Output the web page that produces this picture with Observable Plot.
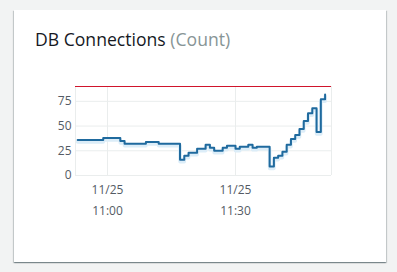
<!DOCTYPE html>
<html><head><meta charset="utf-8">
<script src="https://cdn.jsdelivr.net/npm/d3@7"></script>
<script src="https://cdn.jsdelivr.net/npm/@observablehq/plot@0.6"></script>
<style>
body{margin:0;background:#f2f3f3;width:397px;height:272px;overflow:hidden;font-family:"Open Sans",sans-serif;position:relative;}
#card{position:absolute;left:14px;top:10px;width:372px;height:252px;background:#fff;box-shadow:0 1px 1px 0 rgba(0,28,36,.3),1px 1px 1px 0 rgba(0,28,36,.15),-1px 1px 1px 0 rgba(0,28,36,.15);}
#title{position:absolute;left:35px;top:27px;font-size:17.6px;line-height:24px;color:#16191f;white-space:nowrap;}
#title span{color:#879596;}
#chart{position:absolute;left:0;top:70px;}
</style></head>
<body>
<div id="card"></div>
<div id="title">DB Connections <span>(Count)</span></div>
<div id="chart"></div>
<script>
const times = ["10:53","10:54","10:55","10:56","10:57","10:58","10:59","11:00","11:01","11:02",
"11:03","11:04","11:05","11:06","11:07","11:08","11:09","11:10","11:11","11:12",
"11:13","11:14","11:15","11:16","11:17","11:18","11:19","11:20","11:21","11:22",
"11:23","11:24","11:25","11:26","11:27","11:28","11:29","11:30","11:31","11:32",
"11:33","11:34","11:35","11:36","11:37","11:38","11:39","11:40","11:41","11:42",
"11:43","11:44","11:45","11:46","11:47","11:48","11:49","11:50","11:51"];
const connections = [36,36,36,36,36,36,38,38,38,38,
35,32,32,32,32,32,34,34,34,32,
32,32,32,32,16,20,23,23,27,27,
31,28,25,25,28,30,30,27,29,29,
31,28,29,29,29,9,18,20,24,31,
37,41,47,55,63,68,44,77,82];
const threshold = [90];
const yTicks = [0,25,50,75];
const xTickTimes = ["11:00","11:30"];
const xTickDates = ["11/25","11/25"];
const xDomain = ["10:52:30","11:52:30"];

const toDate = s => { const p = s.split(":").map(Number); return new Date(2023,10,25,p[0],p[1],p[2]||0); };
const data = times.map((t,i) => ({time: toDate(t), value: connections[i]}));
const tickDates = xTickTimes.map(toDate);
const domain = xDomain.map(toDate);

const chart = Plot.plot({
  width: 397, height: 150,
  marginLeft: 75, marginRight: 66, marginTop: 16, marginBottom: 45,
  style: {fontFamily: "'Open Sans', sans-serif", fontSize: "12px", color: "#545b64", background: "transparent"},
  x: {type: "time", domain},
  y: {domain: [0, 90]},
  marks: [
    Plot.gridY(yTicks, {stroke: "#eaeded", strokeOpacity: 1}),
    Plot.gridX([...tickDates, ...domain], {stroke: "#eaeded", strokeOpacity: 1}),
    Plot.ruleY(threshold, {stroke: "#d0142c", strokeWidth: 1}),
    Plot.line(data, {x: "time", y: "value", curve: "step-after", stroke: "#dcedf8", strokeWidth: 3.5, dy: 2}),
    Plot.line(data, {x: "time", y: "value", curve: "step-after", stroke: "#1f6a9e", strokeWidth: 2}),
    Plot.axisY(yTicks, {tickSize: 0, tickPadding: 4, label: null}),
    Plot.axisX(tickDates, {tickSize: 0, tickPadding: 10, tickFormat: (d, i) => xTickDates[i], label: null}),
    Plot.axisX(tickDates, {tickSize: 0, tickPadding: 31, tickFormat: (d, i) => xTickTimes[i], label: null})
  ]
});
document.getElementById("chart").appendChild(chart);
</script>
</body></html>
